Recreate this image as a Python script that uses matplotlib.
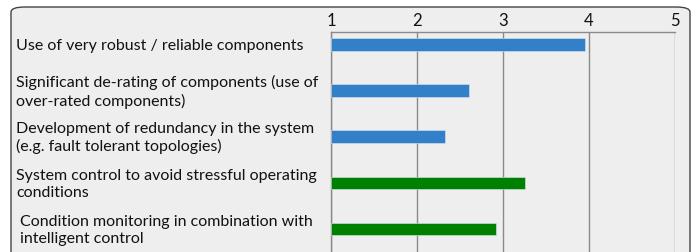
import matplotlib.pyplot as plt
from matplotlib.patches import FancyBboxPatch
from matplotlib.transforms import blended_transform_factory

# Survey items and mean scores (1-5 scale)
labels = [
    "Use of very robust / reliable components",
    "Significant de-rating of components (use of\nover-rated components)",
    "Development of redundancy in the system\n(e.g. fault tolerant topologies)",
    "System control to avoid stressful operating\nconditions",
    "Condition monitoring in combination with\nintelligent control",
]
scores = [3.95, 2.61, 2.32, 3.25, 2.92]
colors = ["#3380c8", "#3380c8", "#3380c8", "#008000", "#008000"]
ticks = [1, 2, 3, 4, 5]

W, H = 696, 252
plt.rcParams['font.family'] = ['Lato', 'DejaVu Sans']

fig = plt.figure(figsize=(W / 100, H / 100), dpi=100, facecolor='white')

# rounded panel behind everything
frame = FancyBboxPatch((11 / W, -20 / H), (690 - 11) / W, (H - 7 + 20) / H,
                       boxstyle="round,pad=0,rounding_size=0.02",
                       transform=fig.transFigure, facecolor='#eeeeee',
                       edgecolor='#444444', linewidth=1.0, zorder=-5)
fig.patches.append(frame)

ax = fig.add_axes([331 / W, 0, (675 - 331) / W, 1 - 32 / H])
ax.set_facecolor('none')
ax.set_zorder(2)

y = list(range(len(labels)))
ax.barh(y, [s - 1 for s in scores], left=1, height=0.27, color=colors,
        edgecolor='#d8e4f0', linewidth=0.4, zorder=3)

ax.set_xlim(1, 5)
ax.set_ylim(4.5, -0.27)
ax.set_xticks(ticks)
ax.xaxis.tick_top()
ax.tick_params(axis='x', length=0, pad=2, labelsize=12, colors='#111111')
ax.set_yticks([])
ax.grid(axis='x', color='#8a8a8a', linewidth=1.0, zorder=1)
for side in ['right', 'bottom']:
    ax.spines[side].set_visible(False)
for side in ['left', 'top']:
    ax.spines[side].set_color('#8a8a8a')
    ax.spines[side].set_linewidth(1.0)

trans = blended_transform_factory(fig.transFigure, ax.transData)
for i, lab in enumerate(labels):
    x0 = 20 if i == len(labels) - 1 else 16
    fig.text(x0 / W, i + 0.03, lab, transform=trans, ha='left', va='center',
             fontsize=11.5, color='#111111', linespacing=1.25, zorder=4)

fig.savefig('out.png', dpi=100, facecolor='white')
